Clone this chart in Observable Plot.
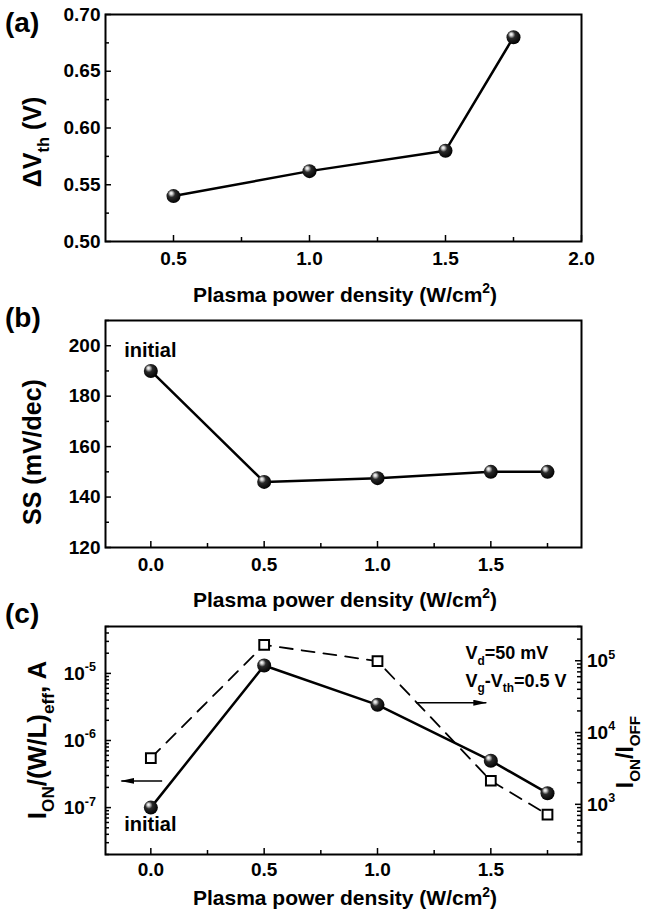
<!DOCTYPE html>
<html><head><meta charset="utf-8">
<script src="https://cdn.jsdelivr.net/npm/d3@7"></script>
<script src="https://cdn.jsdelivr.net/npm/@observablehq/plot@0.6"></script>
<style>
body{margin:0;background:#fff;}
#wrap{position:relative;width:652px;height:913px;overflow:hidden;background:#fff;}
#wrap svg{position:absolute;left:0;}
</style></head><body>
<svg width="0" height="0" style="position:absolute"><defs>
<radialGradient id="sphere" cx="0.42" cy="0.4" r="0.62" fx="0.32" fy="0.28">
<stop offset="0" stop-color="#ffffff"/>
<stop offset="0.16" stop-color="#d0d0d0"/>
<stop offset="0.42" stop-color="#2a2a2a"/>
<stop offset="1" stop-color="#000000"/>
</radialGradient>
<marker id="ahead" viewBox="0 0 14 6" refX="13" refY="3" markerWidth="14" markerHeight="6" markerUnits="userSpaceOnUse" orient="auto"><path d="M0,0 L14,3 L0,6 Z" fill="black"/></marker>
</defs></svg>
<div id="wrap"></div>
<script>
const FONT = '"Liberation Sans", Arial, Helvetica, sans-serif';

// ---- data ----
const densityA = [0.5, 1.0, 1.5, 1.75];
const deltaVth = [0.54, 0.562, 0.58, 0.68];
const densityBC = [0, 0.5, 1.0, 1.5, 1.75];
const ssValues = [190, 146, 147.5, 150, 150];
const ionWL = [1.0e-7, 1.31e-5, 3.4e-6, 5.0e-7, 1.64e-7];
const ionIoff = [4400, 1.66e5, 9.9e4, 2130, 720];

// ---- ticks ----
const xTicksA = [0.5, 1.0, 1.5, 2.0];
const xMinorA = [0.75, 1.25, 1.75];
const yTicksA = [0.50, 0.55, 0.60, 0.65, 0.70];
const yMinorA = [0.525, 0.575, 0.625, 0.675];
const xTicksBC = [0.0, 0.5, 1.0, 1.5];
const xMinorBC = [0.25, 0.75, 1.25, 1.75];
const yTicksB = [120, 140, 160, 180, 200];
const yMinorB = [130, 150, 170, 190, 210];
const yTicksCL = [1e-7, 1e-6, 1e-5];
const yExpCL = ["-7", "-6", "-5"];
const yTicksCR = [1e3, 1e4, 1e5];
const yExpCR = ["3", "4", "5"];
const domainCL = [2e-8, 5e-5];
const domainCR = [200, 3e5];

// ---- annotations ----
const arrowLeft = [{x1: 0.05, x2: -0.13, y: 2.5e-7}];
const arrowRight = [{x1: 1.17, x2: 1.48, y: 2.6e4}];
const noteX = 1.39, noteY1 = 1.6e-5, noteY2 = 6.2e-6;

function logMinor([d0, d1]) {
  const out = [];
  for (let e = Math.floor(Math.log10(d0)); e <= Math.ceil(Math.log10(d1)); e++)
    for (let m = 2; m <= 9; m++) { const v = m * 10 ** e; if (v >= d0 && v <= d1) out.push(v); }
  return out;
}

const W = 652, ML = 105, MR = 71, FW = W - ML - MR;
const tk = {stroke: "black", strokeWidth: 1.5};
const baseStyle = {fontFamily: FONT, fontSize: "19px", fontWeight: "bold", color: "black", background: "transparent", overflow: "visible"};
const wrap = document.getElementById("wrap");

function place(svg, top) { svg.style.top = top + "px"; wrap.appendChild(svg); return svg; }

function richText(svg, {x, y, parts, size, anchor = "middle", rotate = 0, supShift = 0.45}) {
  const t = d3.select(svg).append("text")
    .attr("transform", `translate(${x},${y}) rotate(${rotate})`)
    .attr("text-anchor", anchor).attr("font-family", FONT).attr("font-weight", "bold")
    .attr("font-size", size).attr("fill", "black");
  let shift = 0;
  for (const p of parts) {
    const [str, kind] = Array.isArray(p) ? p : [p, null];
    const s = kind === "sub" ? size * 0.3 : kind === "sup" ? -size * supShift : 0;
    const ts = t.append("tspan").attr("dy", s - shift).text(str);
    if (kind) ts.attr("font-size", size * 0.66);
    shift = s;
  }
  return t;
}
const xTitle = ["Plasma power density (W/cm", ["2", "sup"], ")"];
const PAD = 10;

// ---------- Panel (a) ----------
{
  const H = 305, MT = 14, MB = 64, IH = H - MT - MB;
  const p = Plot.plot({
    width: W, height: H, marginTop: MT, marginBottom: MB, marginLeft: ML, marginRight: MR,
    style: baseStyle,
    x: {domain: [0.25, 2.0]},
    y: {domain: [0.5, 0.7]},
    marks: [
      Plot.tickX(xTicksA, {insetTop: IH - 6, ...tk}),
      Plot.tickX(xMinorA, {insetTop: IH - 4, ...tk}),
      Plot.tickY(yTicksA, {insetRight: FW - 6, ...tk}),
      Plot.tickY(yMinorA, {insetRight: FW - 4, ...tk}),
      Plot.axisX(xTicksA, {tickSize: 0, tickPadding: PAD, tickFormat: d3.format(".1f"), label: null}),
      Plot.axisY(yTicksA, {tickSize: 0, tickPadding: 5, tickFormat: d3.format(".2f"), label: null}),
      Plot.line(densityA, {x: densityA, y: deltaVth, stroke: "black", strokeWidth: 2.5}),
      Plot.dot(densityA, {x: densityA, y: deltaVth, r: 7, fill: "url(#sphere)", stroke: "none"}),
      Plot.frame({stroke: "black", strokeWidth: 2})
    ]
  });
  place(p, 0);
  richText(p, {x: 345, y: 302, parts: xTitle, size: 21});
  richText(p, {x: 41, y: 142, parts: ["ΔV", ["th", "sub"], " (V)"], size: 25, rotate: -90});
  richText(p, {x: 5, y: 32, parts: ["(a)"], size: 28, anchor: "start"});
}

// ---------- Panel (b) ----------
{
  const H = 305, MT = 15, MB = 63, IH = H - MT - MB;
  const p = Plot.plot({
    width: W, height: H, marginTop: MT, marginBottom: MB, marginLeft: ML, marginRight: MR,
    style: baseStyle,
    x: {domain: [-0.2, 1.9]},
    y: {domain: [120, 210]},
    marks: [
      Plot.tickX(xTicksBC, {insetTop: IH - 6, ...tk}),
      Plot.tickX(xMinorBC, {insetTop: IH - 4, ...tk}),
      Plot.tickY(yTicksB, {insetRight: FW - 6, ...tk}),
      Plot.tickY(yMinorB, {insetRight: FW - 4, ...tk}),
      Plot.axisX(xTicksBC, {tickSize: 0, tickPadding: PAD, tickFormat: d3.format(".1f"), label: null}),
      Plot.axisY(yTicksB, {tickSize: 0, tickPadding: 5, tickFormat: d3.format("d"), label: null}),
      Plot.line(densityBC, {x: densityBC, y: ssValues, stroke: "black", strokeWidth: 2.5}),
      Plot.dot(densityBC, {x: densityBC, y: ssValues, r: 7, fill: "url(#sphere)", stroke: "none"}),
      Plot.frame({stroke: "black", strokeWidth: 2})
    ]
  });
  place(p, 305);
  const sx = p.scale("x"), sy = p.scale("y");
  richText(p, {x: sx.apply(densityBC[0]), y: sy.apply(ssValues[0]) - 13, parts: ["initial"], size: 20});
  richText(p, {x: 345, y: 302, parts: xTitle, size: 21});
  richText(p, {x: 41, y: 147, parts: ["SS (mV/dec)"], size: 25, rotate: -90});
  richText(p, {x: 5, y: 22, parts: ["(b)"], size: 28, anchor: "start"});
}

// ---------- Panel (c) ----------
{
  const H = 303, MT = 16, MB = 59, IH = H - MT - MB;
  // right axis (I_ON/I_OFF), drawn underneath
  const r = Plot.plot({
    width: W, height: H, marginTop: MT, marginBottom: MB, marginLeft: ML, marginRight: MR,
    style: baseStyle,
    x: {domain: [-0.2, 1.9], axis: null},
    y: {type: "log", domain: domainCR, axis: null},
    marks: [
      Plot.tickY(yTicksCR, {insetLeft: FW - 6, ...tk}),
      Plot.tickY(logMinor(domainCR), {insetLeft: FW - 4, ...tk}),
      Plot.line(densityBC, {x: densityBC, y: ionIoff, stroke: "black", strokeWidth: 1.8, strokeDasharray: "13,9"}),
      Plot.link(arrowRight, {x1: "x1", x2: "x2", y1: "y", y2: "y", stroke: "black", strokeWidth: 1.5}),
      Plot.dot(densityBC, {x: densityBC, y: ionIoff, symbol: "square", r: 5.5, fill: "white", stroke: "black", strokeWidth: 2})
    ]
  });
  place(r, 610);
  d3.select(r).selectAll('g[aria-label="link"] path').attr("marker-end", "url(#ahead)");
  const ry = r.scale("y");
  yTicksCR.forEach((v, i) => richText(r, {x: 587, y: ry.apply(v) + 7, parts: ["10", [yExpCR[i], "sup"]], size: 19, anchor: "start"}));
  richText(r, {x: 633, y: 142, parts: ["I", ["ON", "sub"], "/I", ["OFF", "sub"]], size: 23, rotate: -90});

  // left axis (I_ON/(W/L)eff)
  const p = Plot.plot({
    width: W, height: H, marginTop: MT, marginBottom: MB, marginLeft: ML, marginRight: MR,
    style: baseStyle,
    x: {domain: [-0.2, 1.9]},
    y: {type: "log", domain: domainCL},
    marks: [
      Plot.tickX(xTicksBC, {insetTop: IH - 6, ...tk}),
      Plot.tickX(xMinorBC, {insetTop: IH - 4, ...tk}),
      Plot.tickY(yTicksCL, {insetRight: FW - 6, ...tk}),
      Plot.tickY(logMinor(domainCL), {insetRight: FW - 4, ...tk}),
      Plot.axisX(xTicksBC, {tickSize: 0, tickPadding: 8, tickFormat: d3.format(".1f"), label: null}),
      Plot.axisY([], {label: null}),
      Plot.link(arrowLeft, {x1: "x1", x2: "x2", y1: "y", y2: "y", stroke: "black", strokeWidth: 1.5}),
      Plot.line(densityBC, {x: densityBC, y: ionWL, stroke: "black", strokeWidth: 2.5}),
      Plot.dot(densityBC, {x: densityBC, y: ionWL, r: 7, fill: "url(#sphere)", stroke: "none"}),
      Plot.frame({stroke: "black", strokeWidth: 2})
    ]
  });
  place(p, 610);
  d3.select(p).selectAll('g[aria-label="link"] path').attr("marker-end", "url(#ahead)");
  const sx = p.scale("x"), sy = p.scale("y");
  yTicksCL.forEach((v, i) => richText(p, {x: 96, y: sy.apply(v) + 7, parts: ["10", [yExpCL[i], "sup"]], size: 19, anchor: "end"}));
  richText(p, {x: sx.apply(densityBC[0]), y: sy.apply(ionWL[0]) + 24, parts: ["initial"], size: 20});
  richText(p, {x: sx.apply(noteX), y: sy.apply(noteY1), parts: ["V", ["d", "sub"], "=50 mV"], size: 18, anchor: "start"});
  richText(p, {x: sx.apply(noteX), y: sy.apply(noteY2), parts: ["V", ["g", "sub"], "-V", ["th", "sub"], "=0.5 V"], size: 18, anchor: "start"});
  richText(p, {x: 345, y: 295, parts: xTitle, size: 21, supShift: 0.38});
  richText(p, {x: 46, y: 130, parts: ["I", ["ON", "sub"], "/(W/L)", ["eff", "sub"], ", A"], size: 26, rotate: -90});
  richText(p, {x: 5, y: 13, parts: ["(c)"], size: 28, anchor: "start"});
}
</script>
</body></html>
